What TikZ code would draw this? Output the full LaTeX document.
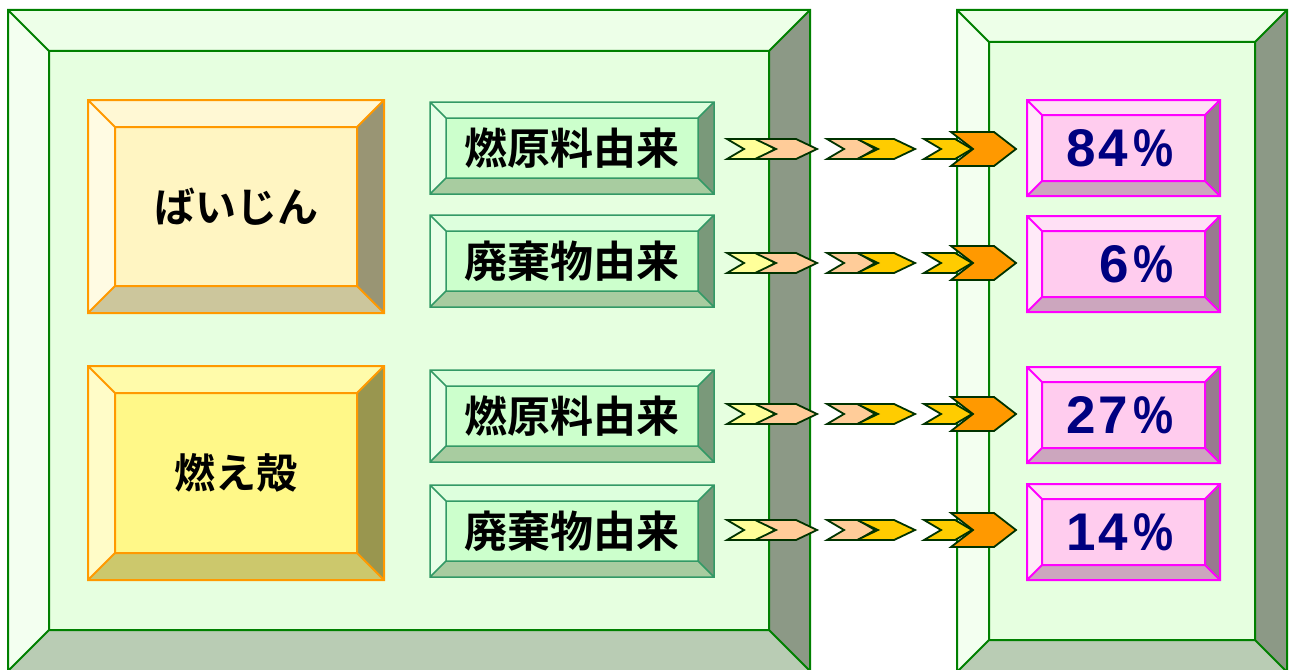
\documentclass[tikz,border=0pt]{standalone}
\usepackage{graphicx}
\usepackage{fontspec}
\newfontfamily\jp{Noto Sans CJK JP}[BoldFont={Noto Sans CJK JP Bold}]
\newfontfamily\pct{Liberation Sans}
% panel
\definecolor{pnin}{HTML}{E6FFE0}\definecolor{pntop}{HTML}{EDFFE8}\definecolor{pnleft}{HTML}{F3FFF0}
\definecolor{pnright}{HTML}{8C9986}\definecolor{pnbot}{HTML}{B9CCB4}\definecolor{pnstroke}{HTML}{008000}
% yellow A
\definecolor{yain}{HTML}{FFF5C2}\definecolor{yatop}{HTML}{FFF8D4}\definecolor{yaleft}{HTML}{FFFBE3}
\definecolor{yaright}{HTML}{999574}\definecolor{yabot}{HTML}{CCC69C}
% yellow B
\definecolor{ybin}{HTML}{FFF888}\definecolor{ybtop}{HTML}{FFFBAA}\definecolor{ybleft}{HTML}{FFFCC8}
\definecolor{ybright}{HTML}{99964F}\definecolor{ybbot}{HTML}{CCC86C}
\definecolor{ystroke}{HTML}{FF9900}
% green
\definecolor{grin}{HTML}{CCFFCC}\definecolor{grtop}{HTML}{DDFFDD}\definecolor{grleft}{HTML}{E8FFE8}
\definecolor{grright}{HTML}{7A997A}\definecolor{grbot}{HTML}{A8CCA0}\definecolor{grstroke}{HTML}{339966}
% pink
\definecolor{pkin}{HTML}{FFCCEE}\definecolor{pktop}{HTML}{FFE0F5}\definecolor{pkleft}{HTML}{FFEAF8}
\definecolor{pkright}{HTML}{997A8F}\definecolor{pkbot}{HTML}{CCA6BE}\definecolor{pkstroke}{HTML}{FF00FF}
% arrows
\definecolor{chyel}{HTML}{FFFF99}\definecolor{chpeach}{HTML}{FFCC99}\definecolor{chgold}{HTML}{FFCC00}
\definecolor{chorange}{HTML}{FF9900}\definecolor{chline}{HTML}{003300}
\definecolor{navy}{HTML}{000080}

\tikzset{
  pnline/.style={draw=pnstroke, line width=2pt},
  yaline/.style={draw=ystroke, line width=2pt},
  ybline/.style={draw=ystroke, line width=2pt},
  grline/.style={draw=grstroke, line width=1.5pt},
  pkline/.style={draw=pkstroke, line width=2pt},
  chevstyle/.style={draw=chline, line width=1.8pt, line join=miter},
  jplabel/.style={inner sep=0pt, font=\jp\bfseries\fontsize{43}{43}\selectfont, text=black},
  jpbig/.style={inner sep=0pt, font=\jp\bfseries\fontsize{41}{41}\selectfont, text=black},
  pctlabel/.style={inner sep=0pt, font=\pct\bfseries\fontsize{53}{53}\selectfont, text=navy},
}

% #1 x1, #2 y1, #3 x2, #4 y2, #5 depth, #6 scheme
\newcommand{\bevelbox}[6]{%
  \fill[#6in] (#1+#5,#2+#5) rectangle (#3-#5,#4-#5);
  \fill[#6top] (#1,#2) -- (#3,#2) -- (#3-#5,#2+#5) -- (#1+#5,#2+#5) -- cycle;
  \fill[#6left] (#1,#2) -- (#1+#5,#2+#5) -- (#1+#5,#4-#5) -- (#1,#4) -- cycle;
  \fill[#6right] (#3,#2) -- (#3,#4) -- (#3-#5,#4-#5) -- (#3-#5,#2+#5) -- cycle;
  \fill[#6bot] (#1,#4) -- (#1+#5,#4-#5) -- (#3-#5,#4-#5) -- (#3,#4) -- cycle;
  \draw[#6line] (#1,#2) rectangle (#3,#4) (#1+#5,#2+#5) rectangle (#3-#5,#4-#5)
    (#1,#2) -- (#1+#5,#2+#5) (#3,#2) -- (#3-#5,#2+#5)
    (#1,#4) -- (#1+#5,#4-#5) (#3,#4) -- (#3-#5,#4-#5);
}
% chevron: #1 x, #2 yc, #3 width, #4 height, #5 depth, #6 colour
\newcommand{\chev}[6]{%
  \filldraw[chevstyle, fill=#6] (#1,#2-#4/2) -- (#1+#3-#5,#2-#4/2) -- (#1+#3,#2)
    -- (#1+#3-#5,#2+#4/2) -- (#1,#2+#4/2) -- (#1+#5,#2) -- cycle;
}
% percentage text: digits spaced, narrowed percent sign
\newcommand{\pctsign}{\hspace{5pt}\scalebox{0.85}[1]{\%}}

\begin{document}
\begin{tikzpicture}[x=1pt,y=-1pt]
\useasboundingbox (0,0) rectangle (1289,669);
\fill[white] (0,0) rectangle (1289,669);

% big panels
\bevelbox{8}{10}{810}{671}{41}{pn}
\bevelbox{957}{10}{1287}{672}{32}{pn}

% yellow boxes
\bevelbox{88}{100}{384}{313}{27}{ya}
\bevelbox{88}{366}{384}{580}{27}{yb}
\node[jpbig] (baijin) at (236,207) {ばいじん};
\node[jpbig] (moegara) at (236,473) {燃え殻};

% green boxes
\bevelbox{430}{102}{714}{194}{16}{gr}
\bevelbox{430}{215}{714}{307}{16}{gr}
\bevelbox{430}{370}{714}{462}{16}{gr}
\bevelbox{430}{485}{714}{577}{16}{gr}
\node[jplabel] (g1) at (572,148) {燃原料由来};
\node[jplabel] (g2) at (572,261) {廃棄物由来};
\node[jplabel] (g3) at (572,416) {燃原料由来};
\node[jplabel] (g4) at (572,531) {廃棄物由来};

% pink boxes
\bevelbox{1027}{100}{1220}{196}{15}{pk}
\bevelbox{1027}{216}{1220}{312}{15}{pk}
\bevelbox{1027}{367}{1220}{463}{15}{pk}
\bevelbox{1027}{484}{1220}{580}{15}{pk}
\node[pctlabel, anchor=base west] (p1) at (1066,166) {8\hspace{3pt}4\pctsign};
\node[pctlabel, anchor=base west] (p2) at (1099,282) {6\pctsign};
\node[pctlabel, anchor=base west] (p3) at (1066,433) {2\hspace{3pt}7\pctsign};
\node[pctlabel, anchor=base west] (p4) at (1066,550) {1\hspace{3pt}4\pctsign};

% chevron arrows
\foreach \yc in {149,263,414,530}{
  \chev{727}{\yc}{48}{20}{17}{chyel}
  \chev{755}{\yc}{62}{20}{21}{chpeach}
  \chev{827}{\yc}{48}{20}{17}{chpeach}
  \chev{857}{\yc}{58}{20}{21}{chgold}
  \chev{924}{\yc}{48}{20}{17}{chgold}
  \chev{951}{\yc}{65}{34}{22}{chorange}
}
\end{tikzpicture}
\end{document}
